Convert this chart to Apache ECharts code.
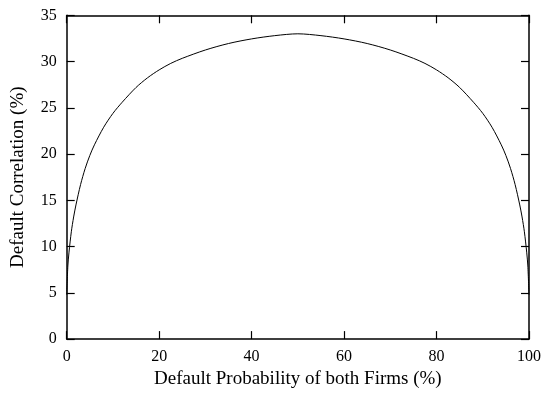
<!DOCTYPE html>
<html>
<head>
<meta charset="utf-8">
<script src="https://cdn.jsdelivr.net/npm/echarts@6/dist/echarts.min.js"></script>
<style>
  html, body { margin: 0; padding: 0; background: #fff; }
  #chart { width: 544px; height: 394px; }
</style>
</head>
<body>
<div id="chart"></div>
<script>
// default probability of both firms (%) and the read-off default correlation (%)
const probability = [0, 0.25, 0.5, 1, 1.5, 2, 3, 4, 5, 6, 8, 10, 12, 15, 17.5, 20, 22.5, 25, 30, 35, 40, 45, 50,
  55, 60, 65, 70, 75, 77.5, 80, 82.5, 85, 88, 90, 92, 94, 95, 96, 97, 98, 98.5, 99, 99.5, 99.75, 100];
const correlation = [4.8, 7.9, 9.4, 11.6, 13.2, 14.5, 16.7, 18.45, 19.85, 21, 22.9, 24.4, 25.6, 27.2, 28.25, 29.1, 29.8, 30.35, 31.25, 31.95, 32.45, 32.8, 33,
  32.8, 32.45, 31.95, 31.25, 30.35, 29.8, 29.1, 28.25, 27.2, 25.6, 24.4, 22.9, 21, 19.85, 18.45, 16.7, 14.5, 13.2, 11.6, 9.4, 7.9, 4.8];
const xTicks = [0, 20, 40, 60, 80, 100];
const yTicks = [0, 5, 10, 15, 20, 25, 30, 35];

const font = "Liberation Serif";
const axisLine = { onZero: false, lineStyle: { color: "#000", width: 1.5 } };
const axisTick = { inside: true, length: 8, lineStyle: { color: "#000", width: 1.2 } };

let chart = echarts.init(document.getElementById("chart"));
chart.setOption({
  animation: false,
  grid: { left: 66.7, right: 13.3, top: 15.3, bottom: 50.3 },
  xAxis: [
    {
      type: "value", min: xTicks[0], max: xTicks[xTicks.length - 1], interval: 20,
      name: "Default Probability of both Firms (%)", nameLocation: "middle", nameGap: 29,
      nameTextStyle: { fontFamily: font, fontSize: 19, color: "#000" },
      axisLine, axisTick,
      axisLabel: { fontFamily: font, fontSize: 16, color: "#000", margin: 10 },
      splitLine: { show: false }
    },
    {
      type: "value", position: "top", min: xTicks[0], max: xTicks[xTicks.length - 1], interval: 20,
      axisLine, axisTick, axisLabel: { show: false }, splitLine: { show: false }
    }
  ],
  yAxis: [
    {
      type: "value", min: yTicks[0], max: yTicks[yTicks.length - 1], interval: 5,
      name: "Default Correlation (%)", nameLocation: "middle", nameGap: 39, nameRotate: 90,
      nameTextStyle: { fontFamily: font, fontSize: 19, color: "#000" },
      axisLine, axisTick,
      axisLabel: { fontFamily: font, fontSize: 16, color: "#000", margin: 10 },
      splitLine: { show: false }
    },
    {
      type: "value", position: "right", min: yTicks[0], max: yTicks[yTicks.length - 1], interval: 5,
      axisLine, axisTick, axisLabel: { show: false }, splitLine: { show: false }
    }
  ],
  series: [{
    type: "line",
    data: probability.map((p, i) => [p, correlation[i]]),
    smooth: 0.3,
    showSymbol: false,
    lineStyle: { color: "#000", width: 1 }
  }]
});
</script>
</body>
</html>
